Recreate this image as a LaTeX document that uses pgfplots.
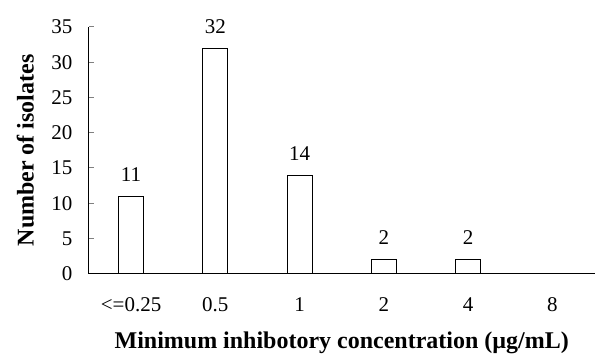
\documentclass[border=0pt]{standalone}
\usepackage{pgfplots}
\pgfplotsset{compat=1.18}
\usepackage{fontspec}
\setmainfont{Liberation Serif}
\begin{document}
\begin{tikzpicture}
\begin{axis}[
  scale only axis,
  width=506pt, height=247pt,
  xmin=-0.5, xmax=5.5,
  ymin=0, ymax=35,
  ytick={0,5,...,35},
  xtick={0,1,2,3,4,5},
  xticklabels={{<=0.25},0.5,1,2,4,8},
  axis x line*=bottom,
  axis y line*=left,
  axis line style={line width=1pt,-},
  x axis line style={-},
  y axis line style={-},
  major tick length=5pt,
  ytick style={line width=1pt},
  tick align=inside,
  xtick style={draw=none},
  tick label style={font=\fontsize{21}{24}\selectfont},
  xticklabel style={anchor=base, yshift=-33pt},
  yticklabel style={anchor=east, xshift=-13pt},
  /pgf/number format/assume math mode=true,
  ylabel={\bfseries Number of isolates},
  xlabel={\bfseries Minimum inhibotory concentration (µg/mL)},
  label style={font=\fontsize{24}{28}\selectfont},
  xlabel style={at={(axis description cs:0.5,-0.279)}, anchor=center},
  ylabel style={at={(axis description cs:-0.126,0.5)}, anchor=center},
  ybar, bar width=25pt,
  nodes near coords,
  every node near coord/.append style={font=\fontsize{21}{24}\selectfont, yshift=11pt},
  clip=false,
]
\addplot[draw=black, fill=white, line width=1pt] coordinates {(0,11) (1,32) (2,14) (3,2) (4,2)};
\end{axis}
\path[use as bounding box] ([xshift=-89pt,yshift=-82pt]current axis.south west) rectangle ([yshift=27pt]current axis.north east);
\end{tikzpicture}
\end{document}
